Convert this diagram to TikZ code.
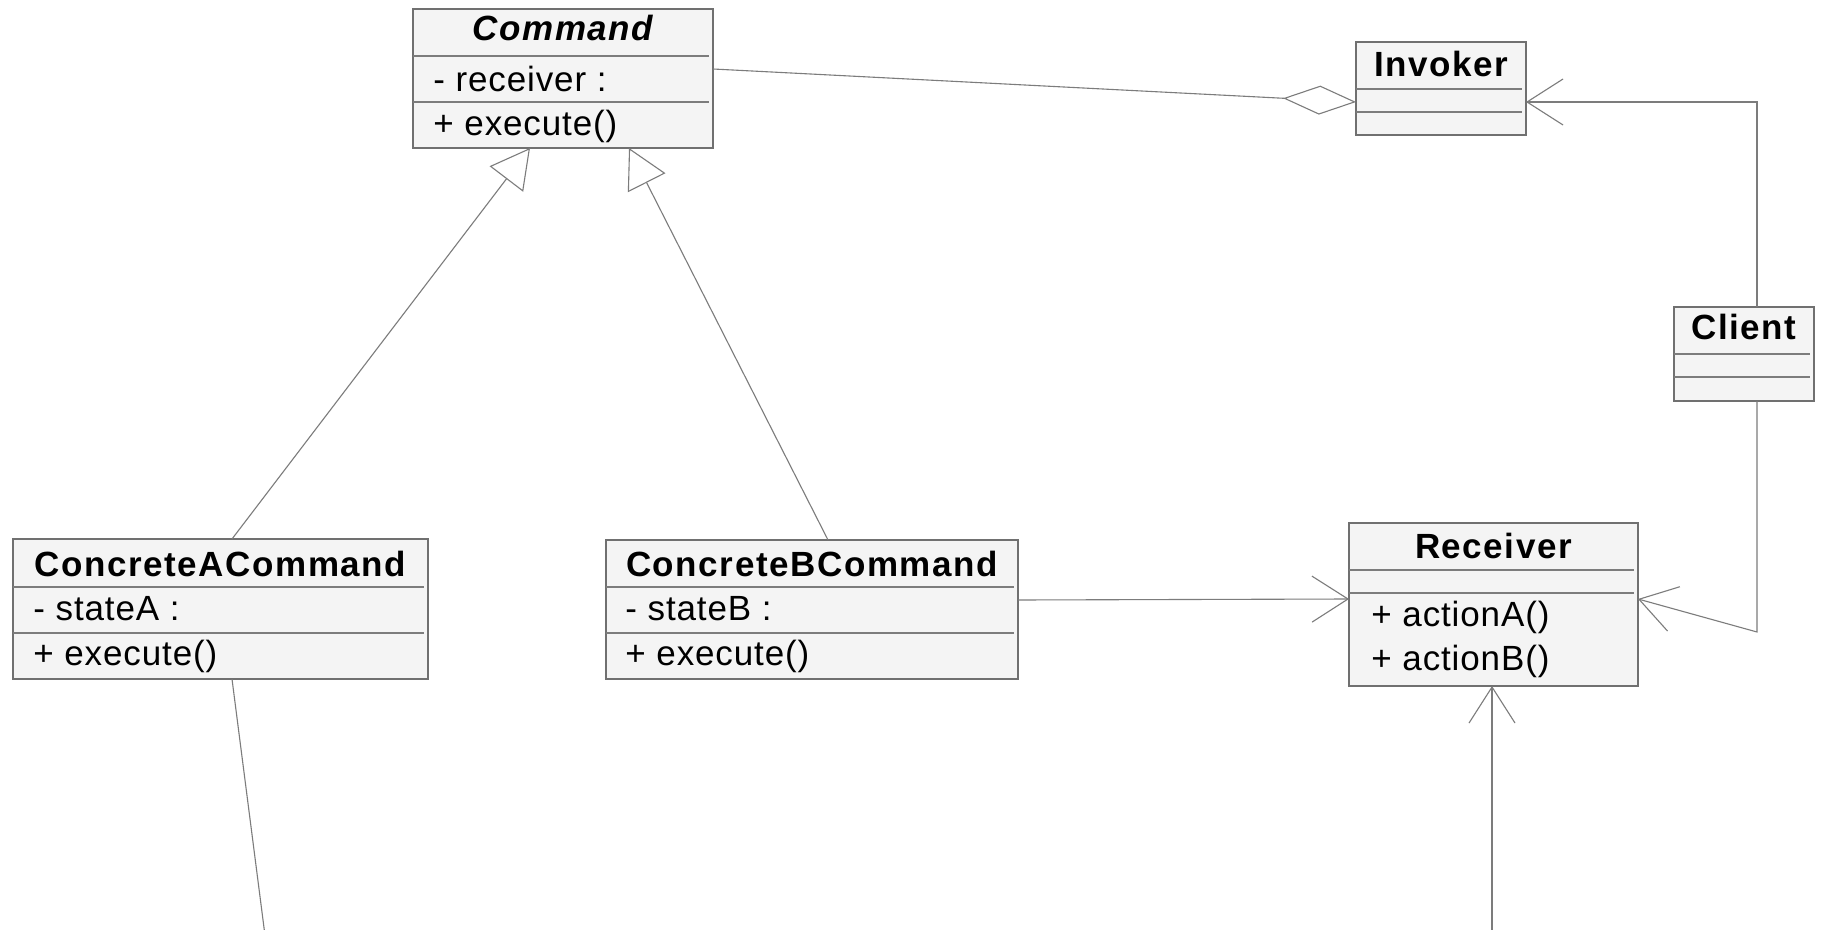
\documentclass[tikz,border=0pt]{standalone}
\usepackage{fontspec}
\setmainfont{Liberation Sans}
\newfontfamily\umltitle{Liberation Sans}[LetterSpace=4.5]
\newfontfamily\umlmember{Liberation Sans}[LetterSpace=2.5]
\usetikzlibrary{arrows.meta}
\definecolor{boxfill}{HTML}{F4F4F4}
\definecolor{boxline}{HTML}{707070}
\definecolor{wire}{HTML}{7C7C7C}

\begin{document}
\begin{tikzpicture}[x=0.5pt,y=-0.5pt,
  classbox/.style={draw=boxline, fill=boxfill, line width=0.75pt, inner sep=0pt, outer sep=0pt},
  sepline/.style={draw=wire, line width=0.6pt},
  title/.style={anchor=base, inner sep=0pt, font=\umltitle\fontsize{17.5}{21}\selectfont\bfseries},
  member/.style={anchor=base west, inner sep=0pt, font=\umlmember\fontsize{17.5}{21}\selectfont},
  wire/.style={draw=wire, line width=0.55pt},
  assoc/.style={wire, -{Straight Barb[length=18pt,width=23pt,line width=0.55pt]}},
  gen/.style={wire, -{Triangle[length=19.5pt,width=21pt,fill=white,line width=0.55pt]}},
  aggr/.style={wire, -{Diamond[length=36.5pt,width=14.5pt,fill=white,line width=0.55pt]}}
]
\useasboundingbox[fill=white] (0,0) rectangle (1823,930);

% ---- Command (abstract) ----
\node[classbox, minimum width=150pt, minimum height=69.5pt] (cmd) at (563,78.5) {};
\draw[sepline] (413,56) -- (709,56);
\draw[sepline] (413,102) -- (709,102);
\node[title] (cmdT) at (563,41) {\itshape Command};
\node[member] (cmdA) at (433,92) {- receiver :};
\node[member] (cmdM) at (433,136) {+ execute()};

% ---- Invoker ----
\node[classbox, minimum width=85pt, minimum height=46.5pt] (inv) at (1441,88.5) {};
\draw[sepline] (1356,89) -- (1522,89);
\draw[sepline] (1356,112) -- (1522,112);
\node[title] (invT) at (1441,77) {Invoker};

% ---- Client ----
\node[classbox, minimum width=70pt, minimum height=47pt] (cli) at (1744,354) {};
\draw[sepline] (1674,354) -- (1810,354);
\draw[sepline] (1674,377) -- (1810,377);
\node[title] (cliT) at (1744,340) {Client};

% ---- ConcreteACommand ----
\node[classbox, minimum width=207.5pt, minimum height=70pt] (ca) at (220.5,609) {};
\draw[sepline] (13,587) -- (424,587);
\draw[sepline] (13,633) -- (424,633);
\node[title] (caT) at (220.5,576) {ConcreteACommand};
\node[member] (caA) at (33,620) {- stateA :};
\node[member] (caM) at (33,665) {+ execute()};

% ---- ConcreteBCommand ----
\node[classbox, minimum width=206pt, minimum height=69.5pt] (cb) at (812,609.5) {};
\draw[sepline] (606,587) -- (1014,587);
\draw[sepline] (606,633) -- (1014,633);
\node[title] (cbT) at (812,576) {ConcreteBCommand};
\node[member] (cbA) at (625,620) {- stateB :};
\node[member] (cbM) at (625,665) {+ execute()};

% ---- Receiver ----
\node[classbox, minimum width=144.5pt, minimum height=81.5pt] (rcv) at (1493.5,604.5) {};
\draw[sepline] (1349,570) -- (1634,570);
\draw[sepline] (1349,593) -- (1634,593);
\node[title] (rcvT) at (1493.5,558) {Receiver};
\node[member] (rcvA) at (1371,626) {+ actionA()};
\node[member] (rcvB) at (1371,670) {+ actionB()};

% ---- relations ----
\draw[aggr] ([yshift=4.75pt]cmd.east) -- ([yshift=-6.75pt]inv.west);
\draw[gen] ([xshift=5.75pt]ca.north) -- ([xshift=-16.5pt]cmd.south);
\draw[gen] ([xshift=8pt]cb.north) -- ([xshift=33pt]cmd.south);
\draw[assoc] ([xshift=6.5pt]cli.north) |- ([yshift=-6.75pt]inv.east);
\draw[assoc] ([xshift=6.5pt]cli.south) -- ++(0,231) -- ([yshift=2.75pt]rcv.east);
\draw[assoc] ([yshift=4.75pt]cb.east) -- ([yshift=2.75pt]rcv.west);

% lines running past the lower edge
\coordinate (abot) at (264.3,930);
\coordinate (rbot) at (1492,930);
\draw[wire] ([xshift=5.75pt]ca.south) -- (abot);
\draw[assoc] (rbot) -- ([xshift=-0.75pt]rcv.south);
\end{tikzpicture}
\end{document}
